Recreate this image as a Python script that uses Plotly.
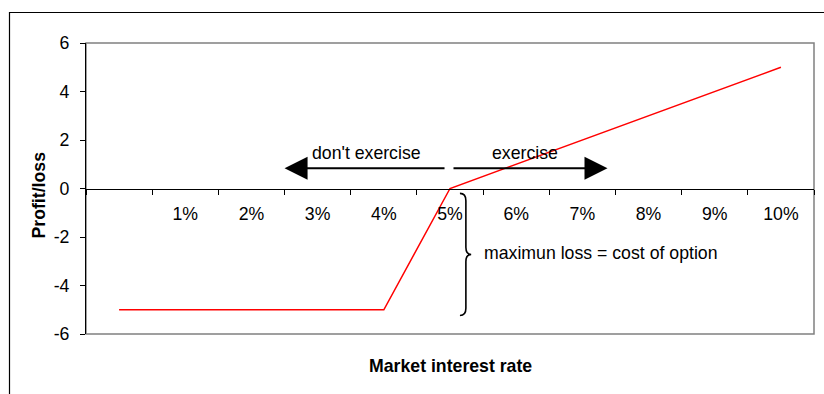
import plotly.graph_objects as go

# Payoff of an interest-rate option (strike 5%, premium 5)
rate_pct = [0, 1, 2, 3, 4, 5, 6, 7, 8, 9, 10]
profit_loss = [-5, -5, -5, -5, -5, 0, 1, 2, 3, 4, 5]
tick_positions = [1, 2, 3, 4, 5, 6, 7, 8, 9, 10]
tick_labels = ["1%", "2%", "3%", "4%", "5%", "6%", "7%", "8%", "9%", "10%"]
y_ticks = [-6, -4, -2, 0, 2, 4, 6]
y_tick_labels = ["-6", "-4", "-2", "0", "2", "4", "6"]

FONT = "Liberation Sans, Arial, sans-serif"
FS = 17.7
W, H = 824, 394
ML, MR, MT, MB = 86, 10, 43, 60

fig = go.Figure()
fig.add_trace(go.Scatter(
    x=rate_pct, y=profit_loss, mode="lines",
    line=dict(color="#ff0000", width=1.5),
    hoverinfo="skip", showlegend=False,
))

# brace marking the maximum loss, from just below 0 down to the -5 floor
bx0, bxm, bxt = 5.15, 5.24, 5.32
by0, by1 = -0.2, -5.24
bym = (by0 + by1) / 2
brace = (f"M {bx0},{by0} Q {bxm},{by0} {bxm},{by0-0.3} "
         f"L {bxm},{bym+0.3} Q {bxm},{bym} {bxt},{bym} "
         f"Q {bxm},{bym} {bxm},{bym-0.3} "
         f"L {bxm},{by1+0.3} Q {bxm},{by1} {bx0},{by1}")

shapes = [
    # gray plot-area border
    dict(type="rect", xref="paper", yref="paper", x0=0, x1=1, y0=0, y1=1,
         line=dict(color="#808080", width=1.5), layer="below"),
    # outer chart frame
    dict(type="rect", xref="paper", yref="paper",
         x0=(9.5 - ML) / (W - ML - MR), x1=(840 - ML) / (W - ML - MR),
         y0=(H - MB - 420) / (H - MT - MB), y1=(H - MB - 12.5) / (H - MT - MB),
         line=dict(color="black", width=1.2), layer="above"),
    dict(type="path", xref="x", yref="y", path=brace,
         line=dict(color="black", width=1.6)),
]

arrow_y = 0.83
annotations = [
    # don't exercise / exercise arrows
    dict(x=2.5, y=arrow_y, ax=4.94, ay=arrow_y, xref="x", yref="y",
         axref="x", ayref="y", text="", showarrow=True,
         arrowhead=2, arrowsize=2.3, arrowwidth=2, arrowcolor="black"),
    dict(x=7.38, y=arrow_y, ax=5.03, ay=arrow_y, xref="x", yref="y",
         axref="x", ayref="y", text="", showarrow=True,
         arrowhead=2, arrowsize=2.3, arrowwidth=2, arrowcolor="black"),
    dict(x=3.74, y=1.45, xref="x", yref="y", text="don't exercise",
         showarrow=False, font=dict(size=FS, color="black", family=FONT)),
    dict(x=6.14, y=1.45, xref="x", yref="y", text="exercise",
         showarrow=False, font=dict(size=FS, color="black", family=FONT)),
    dict(x=5.48, y=-2.68, xref="x", yref="y", xanchor="left",
         text="maximun loss = cost of option",
         showarrow=False, font=dict(size=FS, color="black", family=FONT)),
    # axis titles
    dict(x=(38.5 - ML) / (W - ML - MR), y=(H - MB - 195) / (H - MT - MB),
         xref="paper", yref="paper", xanchor="center", yanchor="middle",
         text="<b>Profit/loss</b>", textangle=-90,
         showarrow=False, font=dict(size=FS, color="black", family=FONT)),
    dict(x=(450 - ML) / (W - ML - MR), y=(H - MB - 366) / (H - MT - MB),
         xref="paper", yref="paper", xanchor="center", yanchor="middle",
         text="<b>Market interest rate</b>",
         showarrow=False, font=dict(size=FS, color="black", family=FONT)),
]

fig.update_layout(
    width=W, height=H,
    margin=dict(l=ML, r=MR, t=MT, b=MB),
    paper_bgcolor="white", plot_bgcolor="white",
    font=dict(family=FONT, size=FS, color="black"),
    shapes=shapes, annotations=annotations,
    xaxis=dict(
        range=[-0.5, 10.5], tickvals=tick_positions, ticktext=tick_labels,
        ticks="", showgrid=False, zeroline=False,
        showline=True, linecolor="black", linewidth=1,
        anchor="free", position=0.5, ticklabelstandoff=9,
        minor=dict(tick0=0.5, dtick=1, ticks="outside", ticklen=5,
                   tickcolor="black", tickwidth=1, showgrid=False),
        tickfont=dict(size=FS, color="black", family=FONT),
    ),
    yaxis=dict(
        range=[-6, 6], tickvals=y_ticks, ticktext=y_tick_labels,
        ticks="outside", ticklen=5,
        tickcolor="black", showgrid=False, zeroline=False,
        showline=True, linecolor="black", linewidth=1,
        ticklabelstandoff=7,
        tickfont=dict(size=FS, color="black", family=FONT),
    ),
)

fig.write_html("out.html")
